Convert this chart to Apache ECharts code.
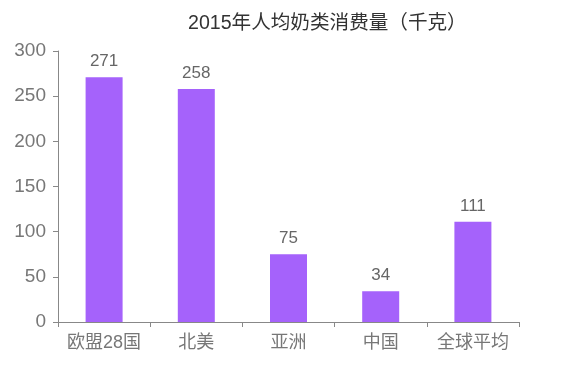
<!DOCTYPE html>
<html><head><meta charset="utf-8">
<script src="https://cdn.jsdelivr.net/npm/echarts@6/dist/echarts.min.js"></script>
<style>html,body{margin:0;padding:0;background:#fff}#c{width:580px;height:372px}</style>
</head><body><div id="c"></div>
<script>
const categories = ['欧盟28国', '北美', '亚洲', '中国', '全球平均'];
const values = [271, 258, 75, 34, 111];
const yTicks = [0, 50, 100, 150, 200, 250, 300];
const FONT = "'Liberation Sans', 'Noto Sans CJK SC', sans-serif";

const chart = echarts.init(document.getElementById('c'));
chart.setOption({
  backgroundColor: '#fff',
  animation: false,
  title: {
    text: '2015年人均奶类消费量（千克）',
    left: 183, top: 9,
    textStyle: { fontFamily: FONT, fontSize: 19.6, fontWeight: 'normal', color: '#333' }
  },
  grid: { left: 58, right: 61, top: 51, bottom: 50 },
  xAxis: {
    type: 'category', data: categories,
    axisLine: { lineStyle: { color: '#888' } },
    axisTick: { show: true, interval: 0, length: 5, lineStyle: { color: '#888' } },
    axisLabel: { interval: 0, fontFamily: FONT, fontSize: 18, color: '#777', margin: 12 }
  },
  yAxis: {
    type: 'value', min: yTicks[0], max: yTicks[yTicks.length - 1], interval: 50,
    axisLine: { show: true, lineStyle: { color: '#888' } },
    axisTick: { show: true, length: 5, lineStyle: { color: '#888' } },
    splitLine: { show: false },
    axisLabel: { fontFamily: FONT, fontSize: 19, color: '#777', margin: 12 }
  },
  series: [{
    type: 'bar', data: values, barWidth: 37,
    itemStyle: { color: '#a562fb' },
    label: { show: true, position: 'top', distance: 7, fontFamily: FONT, fontSize: 17, color: '#666' }
  }]
});
</script></body></html>
